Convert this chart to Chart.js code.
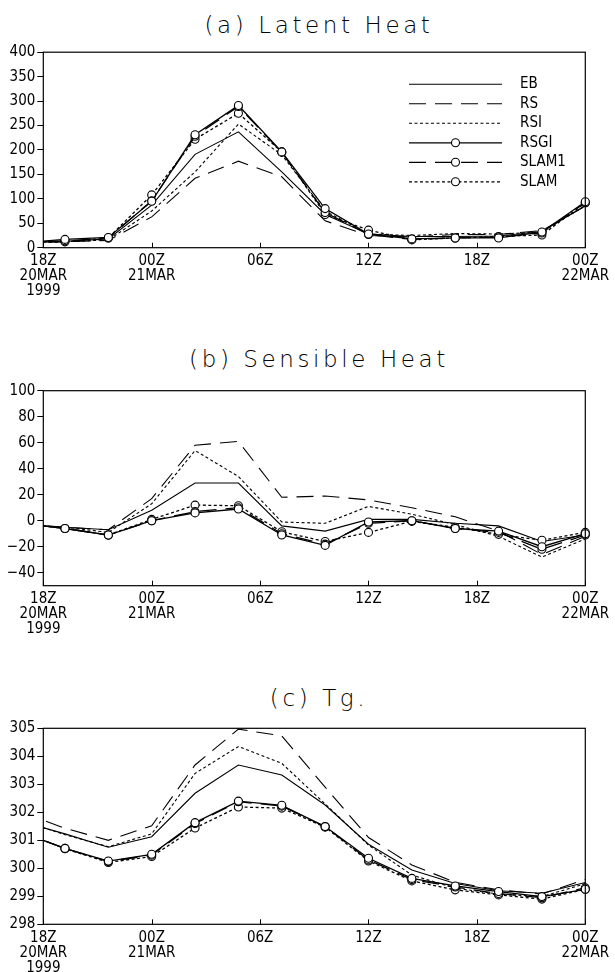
<!DOCTYPE html>
<html>
<head>
<meta charset="utf-8">
<script src="https://cdn.jsdelivr.net/npm/chart.js@4.4.1/dist/chart.umd.min.js"></script>
<style>
  body { margin: 0; background: #fff; width: 615px; height: 972px; position: relative; overflow: hidden; }
  .panel { position: absolute; left: 0; width: 615px; }
  .title { position: absolute; left: 43px; width: 552px; text-align: center; font-family: "DejaVu Sans", sans-serif; font-weight: 200; font-size: 23px; line-height: 23px; color: #000; letter-spacing: 3.6px; white-space: nowrap; }
</style>
</head>
<body>
<div class="title" style="top:14px">(a) Latent Heat</div>
<div class="title" style="top:348px">(b) Sensible Heat</div>
<div class="title" style="top:687px">(c) Tg.</div>
<div class="panel" style="top:40px;height:256px"><canvas id="chartA" width="615" height="256"></canvas></div>
<div class="panel" style="top:378px;height:256px"><canvas id="chartB" width="615" height="256"></canvas></div>
<div class="panel" style="top:716px;height:256px"><canvas id="chartC" width="615" height="256"></canvas></div>
<script>
// hours after 18Z 20MAR 1999 (first point sits just outside the axis and is clipped)
const hours = [-1.2, 1.2, 3.6, 6.0, 8.4, 10.8, 13.2, 15.6, 18.0, 20.4, 22.8, 25.2, 27.6, 30.0];
const seriesNames = ['EB', 'RS', 'RSI', 'RSGI', 'SLAM1', 'SLAM'];
const xTickValues = [0, 6, 12, 18, 24, 30];
const xTickText = [['18Z', '20MAR', '1999'], ['00Z', '21MAR'], '06Z', '12Z', '18Z', ['00Z', '22MAR']];

// (a) Latent Heat
const latentEB    = [11, 13, 18, 87, 191, 237, 155, 68, 28, 23, 23, 24, 33, 86];
const latentRS    = [10, 12, 15, 63, 142, 177, 145, 55, 25, 22, 27, 27, 35, 85];
const latentRSI   = [12, 12, 16, 75, 155, 253, 190, 75, 28, 25, 29, 28, 32, 86];
const latentRSGI  = [10, 17, 21, 95, 231, 291, 196, 80, 28, 18, 20, 20, 32, 94];
const latentSLAM1 = [11, 14, 20, 96, 228, 289, 195, 72, 27, 17, 20, 22, 30, 92];
const latentSLAM  = [12, 12, 20, 108, 222, 275, 196, 68, 36, 16, 20, 23, 26, 92];
const latentTicks = [0, 50, 100, 150, 200, 250, 300, 350, 400];

// (b) Sensible Heat
const sensEB    = [-3, -5, -7, 8, 29, 29, -4, -8, 1, 1, -2, -4, -16, -11];
const sensRS    = [-3, -5, -7, 17, 58, 61, 18, 19, 16, 10, 3, -8, -26, -12];
const sensRSI   = [-3, -5, -9, 13, 54, 34, -1, -2, 11, 5, -3, -12, -28, -14];
const sensRSGI  = [-2, -6, -11, 0, 6, 9, -11, -19, -1, 0, -6, -8, -20, -10];
const sensSLAM1 = [-2, -6, -11, 0, 7, 10, -10, -18, -2, 0, -6, -9, -22, -11];
const sensSLAM  = [-2, -6, -11, 1, 12, 11.5, -8.5, -16, -9, -0.5, -5, -10.5, -15, -9];
const sensTicks = [-40, -20, 0, 20, 40, 60, 80, 100];

// (c) Tg
const tgEB    = [301.67, 301.23, 300.75, 301.13, 302.68, 303.69, 303.33, 302.26, 300.86, 299.94, 299.46, 299.2, 299.11, 299.49];
const tgRS    = [302.0, 301.43, 301.0, 301.52, 303.69, 304.97, 304.73, 302.9, 301.1, 300.12, 299.5, 299.23, 299.08, 299.6];
const tgRSI   = [301.7, 301.2, 300.77, 301.23, 303.39, 304.35, 303.75, 302.3, 300.83, 299.76, 299.29, 299.08, 298.99, 299.45];
const tgRSGI  = [301.29, 300.71, 300.26, 300.5, 301.63, 302.4, 302.25, 301.49, 300.36, 299.64, 299.37, 299.17, 298.99, 299.25];
const tgSLAM1 = [301.29, 300.71, 300.24, 300.47, 301.6, 302.38, 302.22, 301.49, 300.3, 299.6, 299.33, 299.1, 298.95, 299.3];
const tgSLAM  = [301.3, 300.7, 300.21, 300.42, 301.44, 302.19, 302.15, 301.47, 300.26, 299.55, 299.23, 299.05, 298.9, 299.25];
const tgTicks = [298, 299, 300, 301, 302, 303, 304, 305];

const FONT = '"Liberation Sans Narrow", "DejaVu Sans Condensed", sans-serif';
const dashes = [[], [17, 9], [3, 2.5], [], [17, 9], [3, 2.5]];
const markers = [false, false, false, true, true, true];

function makeDatasets(series) {
  return series.map((vals, i) => ({
    label: seriesNames[i],
    data: vals.map((v, k) => ({ x: hours[k], y: v })),
    borderColor: '#000',
    borderWidth: markers[i] ? 1.3 : 1.1,
    borderDash: dashes[i],
    pointRadius: markers[i] ? 4 : 0,
    pointBackgroundColor: '#fff',
    pointBorderColor: '#000',
    pointBorderWidth: 1.1,
    tension: 0,
    order: markers[i] ? 1 : 2,
    clip: { left: 0, right: 6, top: 6, bottom: 6 }
  }));
}

const framePlugin = {
  id: 'frame',
  afterDraw(chart) {
    const { ctx, chartArea } = chart;
    const { left, top, right, bottom } = chartArea;
    const xs = chart.scales.x;
    ctx.save();
    ctx.strokeStyle = '#000';
    ctx.lineWidth = 1.2;
    ctx.strokeRect(left, top, right - left, bottom - top);
    ctx.lineWidth = 1;
    xTickValues.forEach(v => {
      const px = Math.round(xs.getPixelForValue(v)) + 0.5;
      ctx.beginPath();
      ctx.moveTo(px, bottom);
      ctx.lineTo(px, bottom - 5);
      ctx.stroke();
    });
    ctx.restore();
  }
};

const legendPlugin = {
  id: 'lineLegend',
  afterDraw(chart, args, opts) {
    if (!opts.show) return;
    const ctx = chart.ctx;
    ctx.save();
    chart.data.datasets.forEach((ds, i) => {
      const y = opts.top + i * opts.gap;
      ctx.strokeStyle = '#000';
      ctx.lineWidth = ds.borderWidth;
      ctx.setLineDash(ds.borderDash);
      ctx.beginPath();
      ctx.moveTo(opts.x1, y);
      ctx.lineTo(opts.x2, y);
      ctx.stroke();
      ctx.setLineDash([]);
      if (ds.pointRadius > 0) {
        ctx.beginPath();
        ctx.arc((opts.x1 + opts.x2) / 2, y, ds.pointRadius, 0, Math.PI * 2);
        ctx.fillStyle = '#fff';
        ctx.fill();
        ctx.lineWidth = 1.1;
        ctx.stroke();
      }
      ctx.fillStyle = '#000';
      ctx.font = '15px ' + FONT;
      ctx.textBaseline = 'middle';
      ctx.textAlign = 'left';
      ctx.fillText(ds.label, opts.textX, y);
    });
    ctx.restore();
  }
};

function makeChart(id, series, yTicks, yMin, yMax, padTop, xHeight, showLegend) {
  return new Chart(document.getElementById(id), {
    type: 'line',
    data: { datasets: makeDatasets(series) },
    options: {
      responsive: false,
      animation: false,
      layout: { padding: { top: padTop, right: 20.5, left: 0, bottom: 0 } },
      plugins: {
        legend: { display: false },
        tooltip: { enabled: false },
        lineLegend: { show: showLegend, top: 44.3, gap: 19.5, x1: 409, x2: 502, textX: 520 }
      },
      scales: {
        x: {
          type: 'linear',
          min: 0,
          max: 30,
          afterBuildTicks: s => { s.ticks = xTickValues.map(v => ({ value: v })); },
          afterFit: s => { s.height = xHeight; },
          grid: { display: false, drawTicks: false },
          border: { display: false },
          ticks: {
            padding: 6,
            maxRotation: 0,
            autoSkip: false,
            color: '#000',
            font: { family: FONT, size: 15, lineHeight: 1.0 },
            callback: v => xTickText[xTickValues.indexOf(v)]
          }
        },
        y: {
          min: yMin,
          max: yMax,
          afterBuildTicks: s => { s.ticks = yTicks.map(v => ({ value: v })); },
          afterFit: s => { s.width = 43.3; },
          grid: { drawOnChartArea: false, drawTicks: true, tickLength: 6, color: '#000', lineWidth: 1 },
          border: { display: false },
          ticks: {
            padding: 2,
            color: '#000',
            font: { family: FONT, size: 15 },
            callback: v => (v < 0 ? '\u2212' + Math.abs(v) : String(v))
          }
        }
      }
    },
    plugins: [framePlugin, legendPlugin]
  });
}

makeChart('chartA', [latentEB, latentRS, latentRSI, latentRSGI, latentSLAM1, latentSLAM], latentTicks, 0, 400, 12.2, 48.3, true);
makeChart('chartB', [sensEB, sensRS, sensRSI, sensRSGI, sensSLAM1, sensSLAM], sensTicks, -50, 100, 12.7, 48.3, false);
makeChart('chartC', [tgEB, tgRS, tgRSI, tgRSGI, tgSLAM1, tgSLAM], tgTicks, 298, 305, 12.3, 47.7, false);
</script>
</body>
</html>
